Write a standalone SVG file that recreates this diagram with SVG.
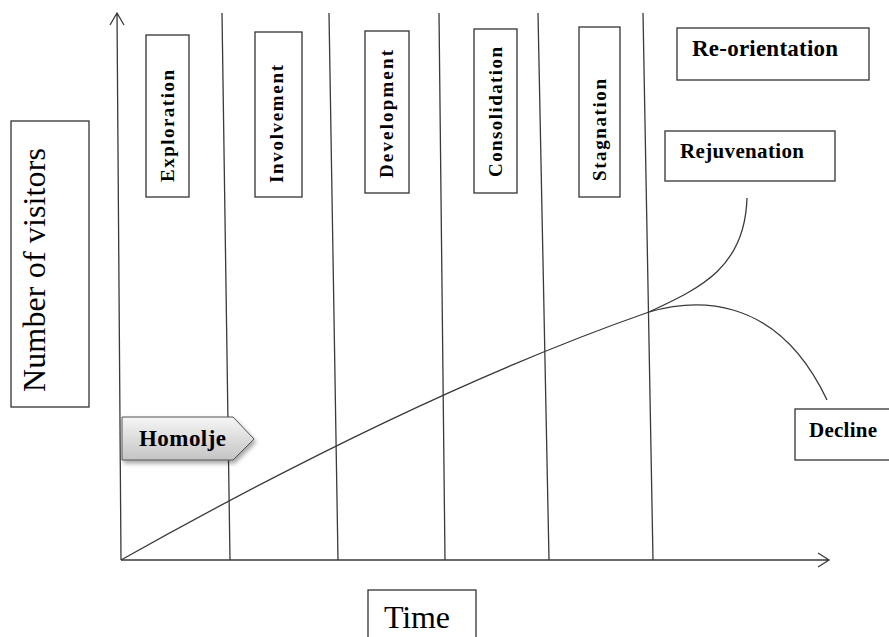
<svg xmlns="http://www.w3.org/2000/svg" width="889" height="637" viewBox="0 0 889 637">
<style>
.ln{fill:none;stroke:#3a3a3a;stroke-width:1.3}
.bx{fill:#fff;stroke:#333;stroke-width:1.3}
.lb{font-family:"Liberation Serif","Times New Roman",serif;font-weight:bold;fill:#000}
.lr{font-family:"Liberation Serif","Times New Roman",serif;fill:#000}
.vt{font-size:19px}
</style>
<defs>
<linearGradient id="g" x1="0" y1="0" x2="0" y2="1">
<stop offset="0" stop-color="#f6f6f6"/>
<stop offset="1" stop-color="#c4c4c4"/>
</linearGradient>
<filter id="sh" x="-20%" y="-30%" width="150%" height="170%">
<feDropShadow dx="2" dy="3" stdDeviation="2" flood-color="#000" flood-opacity="0.35"/>
</filter>
</defs>
<g id="connectors">
<path class="ln" d="M121,560 L117,13 M110,25 L117,13 L124,25"/>
<path class="ln" d="M121,560 L829,560 M818,553 L829,560 L818,567"/>
<path class="ln" d="M222,13 L230,560 M329,13 L338,560 M439,13 L445,560 M538,13 L549,560 M643,13 L653,560"/>
<path class="ln" d="M121,560 Q420,392 649,312"/>
<path class="ln" d="M649,312 C700,288 745,268 747,198"/>
<path class="ln" d="M649,312 C690,300 775,290 827,400"/>
</g>
<g id="n-exploration"><rect class="bx" x="146" y="35" width="43" height="162"/><text class="lb vt" transform="translate(167.5,126) rotate(-90)" x="0" y="6" text-anchor="middle" textLength="112" lengthAdjust="spacing">Exploration</text></g>
<g id="n-involvement"><rect class="bx" x="255" y="32" width="47" height="165"/><text class="lb vt" transform="translate(277,124) rotate(-90)" x="0" y="6" text-anchor="middle" textLength="118" lengthAdjust="spacing">Involvement</text></g>
<g id="n-development"><rect class="bx" x="365" y="31" width="44" height="162"/><text class="lb vt" transform="translate(387,114) rotate(-90)" x="0" y="6" text-anchor="middle" textLength="128" lengthAdjust="spacing">Development</text></g>
<g id="n-consolidation"><rect class="bx" x="474" y="29" width="43" height="164"/><text class="lb vt" transform="translate(495.5,112) rotate(-90)" x="0" y="6" text-anchor="middle" textLength="130" lengthAdjust="spacing">Consolidation</text></g>
<g id="n-stagnation"><rect class="bx" x="579" y="27" width="41" height="170"/><text class="lb vt" transform="translate(600,130) rotate(-90)" x="0" y="6" text-anchor="middle" textLength="102" lengthAdjust="spacing">Stagnation</text></g>
<g id="n-reorientation"><rect class="bx" x="677" y="28" width="192" height="52"/><text class="lb" font-size="23" x="692" y="56" textLength="146" lengthAdjust="spacing">Re-orientation</text></g>
<g id="n-rejuvenation"><rect class="bx" x="665" y="131" width="170" height="50"/><text class="lb" font-size="21" x="680" y="158" textLength="124" lengthAdjust="spacing">Rejuvenation</text></g>
<g id="n-decline"><rect class="bx" x="795" y="409" width="96" height="51"/><text class="lb" font-size="21" x="809" y="437" textLength="68" lengthAdjust="spacing">Decline</text></g>
<g id="n-visitors"><rect class="bx" x="11" y="121" width="78" height="286"/><text class="lr" font-size="32" transform="translate(34,270) rotate(-90)" x="0" y="11" text-anchor="middle" textLength="244" lengthAdjust="spacing">Number of visitors</text></g>
<g id="n-time"><rect class="bx" x="368" y="590" width="108" height="60"/><text class="lr" font-size="32" x="384" y="628" textLength="66" lengthAdjust="spacing">Time</text></g>
<g id="n-homolje"><polygon points="122,417 233,417 254,439 233,460 122,460" fill="url(#g)" stroke="#555" stroke-width="1" filter="url(#sh)"/><text class="lb" font-size="23" x="139" y="446" textLength="87" lengthAdjust="spacing">Homolje</text></g>
</svg>
